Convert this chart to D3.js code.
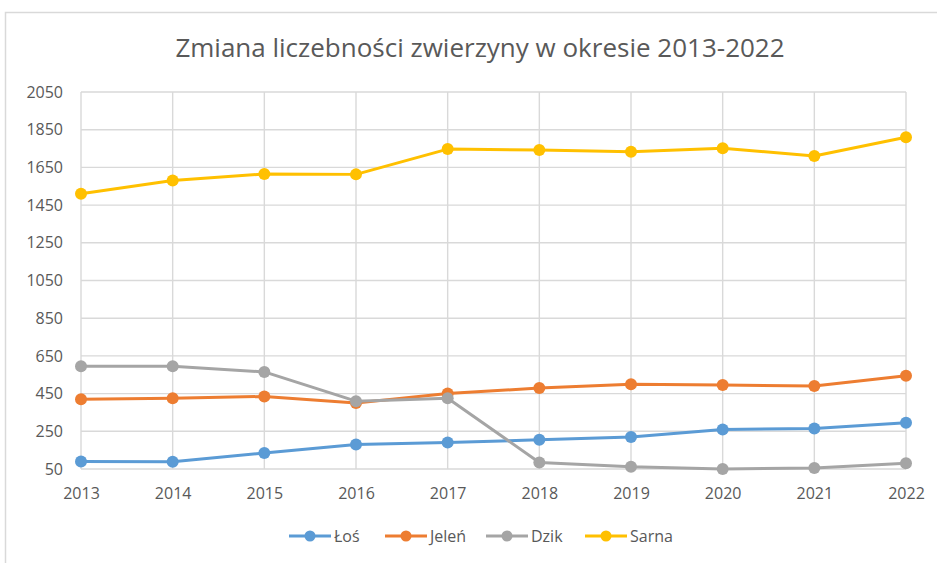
<!DOCTYPE html>
<html>
<head>
<meta charset="utf-8">
<script src="https://cdn.jsdelivr.net/npm/d3@7"></script>
<style>
  body { margin: 0; background: #fff; }
  text { font-family: "Open Sans", "Liberation Sans", sans-serif; }
</style>
</head>
<body>
<div id="chart-area"></div>
<script>
const years = [2013, 2014, 2015, 2016, 2017, 2018, 2019, 2020, 2021, 2022];
const los = [90, 88, 135, 180, 190, 205, 220, 260, 265, 295];
const jelen = [420, 425, 435, 400, 450, 480, 500, 495, 490, 545];
const dzik = [595, 595, 565, 410, 425, 85, 62, 50, 55, 80];
const sarna = [1510, 1580, 1615, 1613, 1747, 1742, 1733, 1752, 1710, 1810];
const yTicks = [50, 250, 450, 650, 850, 1050, 1250, 1450, 1650, 1850, 2050];

const series = [
  { name: "Łoś", values: los, color: "#5b9bd5" },
  { name: "Jeleń", values: jelen, color: "#ed7d31" },
  { name: "Dzik", values: dzik, color: "#a5a5a5" },
  { name: "Sarna", values: sarna, color: "#ffc000" }
];

const W = 937, H = 563;
const margin = { top: 92, right: 31, bottom: 94, left: 81 };
const width = W - margin.left - margin.right;
const height = H - margin.top - margin.bottom;

const svg = d3.select("#chart-area")
  .append("svg")
  .attr("width", W)
  .attr("height", H);

// outer chart frame
svg.append("rect")
  .attr("x", 5.5).attr("y", 12.5)
  .attr("width", 940).attr("height", 560)
  .attr("fill", "none")
  .attr("stroke", "#d9d9d9")
  .attr("stroke-width", 1.5);

svg.append("text")
  .attr("x", 480)
  .attr("y", 57)
  .attr("text-anchor", "middle")
  .attr("font-size", "26px")
  .attr("fill", "#595959")
  .text("Zmiana liczebności zwierzyny w okresie 2013-2022");

const g = svg.append("g")
  .attr("transform", `translate(${margin.left}, ${margin.top})`);

const x = d3.scalePoint()
  .domain(years)
  .range([0, width]);

const y = d3.scaleLinear()
  .domain([50, 2050])
  .range([height, 0]);

// grid
g.append("g")
  .selectAll("line.h")
  .data(yTicks)
  .enter().append("line")
  .attr("x1", 0).attr("x2", width)
  .attr("y1", d => y(d)).attr("y2", d => y(d))
  .attr("stroke", "#d9d9d9")
  .attr("stroke-width", 1.4);

g.append("g")
  .selectAll("line.v")
  .data(years)
  .enter().append("line")
  .attr("x1", d => x(d)).attr("x2", d => x(d))
  .attr("y1", 0).attr("y2", height)
  .attr("stroke", "#d9d9d9")
  .attr("stroke-width", 1.4);

const yAxis = g.append("g")
  .call(d3.axisLeft(y).tickValues(yTicks).tickFormat(d3.format("d")).tickSize(0).tickPadding(18));
yAxis.select(".domain").remove();
yAxis.selectAll("text")
  .attr("font-size", "16px")
  .attr("fill", "#595959")
  .style("font-family", "'Open Sans', sans-serif");

const xAxis = g.append("g")
  .attr("transform", `translate(0, ${height})`)
  .call(d3.axisBottom(x).tickSize(0).tickPadding(19));
xAxis.select(".domain").remove();
xAxis.selectAll("text")
  .attr("font-size", "16px")
  .attr("fill", "#595959")
  .style("font-family", "'Open Sans', sans-serif");

const line = d3.line()
  .x((d, i) => x(years[i]))
  .y(d => y(d));

series.forEach(s => {
  g.append("path")
    .datum(s.values)
    .attr("fill", "none")
    .attr("stroke", s.color)
    .attr("stroke-width", 3)
    .attr("stroke-linejoin", "round")
    .attr("d", line);

  g.append("g")
    .selectAll("circle")
    .data(s.values)
    .enter().append("circle")
    .attr("cx", (d, i) => x(years[i]))
    .attr("cy", d => y(d))
    .attr("r", 6)
    .attr("fill", s.color);
});

// legend
const legendX = [289, 385, 486, 585];
const legend = svg.append("g");
series.forEach((s, i) => {
  const lg = legend.append("g")
    .attr("transform", `translate(${legendX[i]}, 536)`);
  lg.append("line")
    .attr("x1", 0).attr("x2", 42)
    .attr("stroke", s.color)
    .attr("stroke-width", 3);
  lg.append("circle")
    .attr("cx", 21).attr("r", 5.5)
    .attr("fill", s.color);
  lg.append("text")
    .attr("x", 45)
    .attr("dy", "0.35em")
    .attr("font-size", "16px")
    .attr("fill", "#595959")
    .text(s.name);
});
</script>
</body>
</html>
